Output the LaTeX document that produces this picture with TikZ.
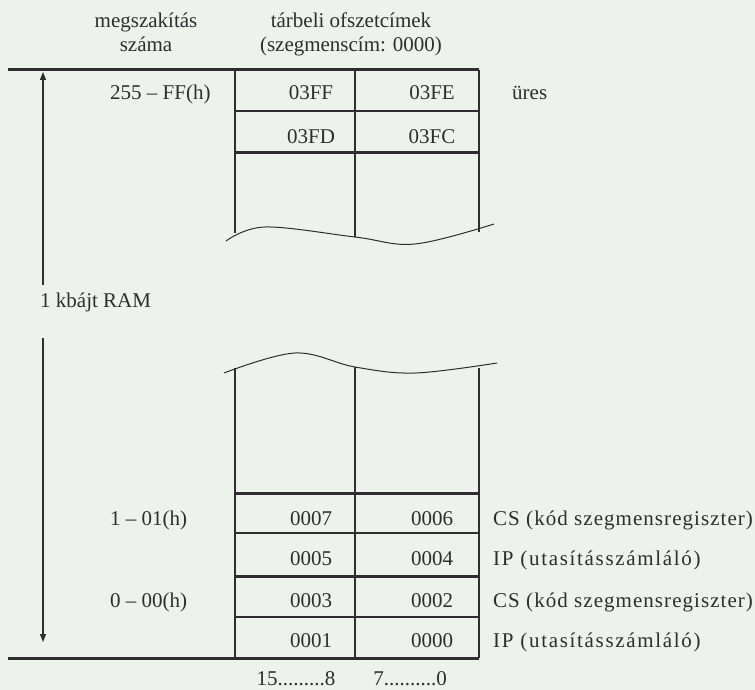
\documentclass[tikz,border=0pt]{standalone}
\usepackage{fontspec}
\setmainfont{Liberation Serif}
\usetikzlibrary{arrows.meta}
\definecolor{paper}{HTML}{EDF2EC}
\definecolor{ink}{HTML}{2E2E2E}

\begin{document}
\begin{tikzpicture}[
  x=1pt, y=-1pt,
  every node/.style={anchor=base, inner sep=0pt, text=ink, font=\fontsize{21}{24}\selectfont},
  fatline/.style={draw=ink, line width=3pt},
  cellline/.style={draw=ink, line width=1.2pt},
  wave/.style={draw=ink, line width=1pt},
  arr/.style={draw=ink, line width=1.2pt, -{Triangle[length=8pt, width=6pt]}},
  regnote/.style={anchor=base west, font=\fontsize{21}{24}\selectfont\addfontfeatures{LetterSpace=#1}},
]
  \fill[paper] (0,0) rectangle (755,690);
  \useasboundingbox (0,0) rectangle (755,690);

  % Headings
  \node[align=center] (irqhead) at (146,52) {megszakítás\\száma};
  \node[align=center] (addrhead) at (351,52) {tárbeli ofszetcímek\\(szegmenscím: 0000)};

  % Upper part of the table
  \draw[fatline] (8,70) -- (479,70);
  \draw[cellline] (235,111) -- (479,111);
  \draw[fatline] (235,153) -- (479,153);
  \draw[cellline] (235,70) -- (235,233);
  \draw[cellline] (355,70) -- (355,237);
  \draw[cellline] (479,70) -- (479,232);
  \draw[wave] plot[smooth, tension=0.6] coordinates {(226,241) (265,227) (355,237) (415,244) (494,224)};

  % Lower part of the table
  \draw[wave] plot[smooth, tension=0.6] coordinates {(224,373) (295,353) (355,367) (415,373) (497,363)};
  \draw[cellline] (235,368) -- (235,658);
  \draw[cellline] (355,367) -- (355,658);
  \draw[cellline] (479,368) -- (479,658);
  \draw[fatline] (235,493) -- (479,493);
  \draw[cellline] (235,533) -- (479,533);
  \draw[fatline] (235,576) -- (479,576);
  \draw[cellline] (235,617) -- (479,617);
  \draw[fatline] (8,658) -- (479,658);

  % Interrupt numbers
  \node[anchor=base west] (irq255) at (110,100) {255 -- FF(h)};
  \node[anchor=base west] (irq1) at (110,525) {1 -- 01(h)};
  \node[anchor=base west] (irq0) at (110,607) {0 -- 00(h)};

  % Cell addresses
  \node (a3ff) at (311,100) {03FF};
  \node (a3fe) at (432,100) {03FE};
  \node (a3fd) at (311,143) {03FD};
  \node (a3fc) at (432,143) {03FC};
  \node (a7) at (311,525) {0007};
  \node (a6) at (432,525) {0006};
  \node (a5) at (311,565) {0005};
  \node (a4) at (432,565) {0004};
  \node (a3) at (311,607) {0003};
  \node (a2) at (432,607) {0002};
  \node (a1) at (311,647) {0001};
  \node (a0) at (432,647) {0000};

  % Notes right of the table
  \node[anchor=base west] (empty) at (512,100) {üres};
  \node[regnote=5] (cs1) at (493,525) {CS (kód szegmensregiszter)};
  \node[regnote=8] (ip1) at (493,565) {IP (utasításszámláló)};
  \node[regnote=5] (cs0) at (493,607) {CS (kód szegmensregiszter)};
  \node[regnote=8] (ip0) at (493,647) {IP (utasításszámláló)};

  % Bit numbers
  \node (hibits) at (296,685) {15.........8};
  \node (lobits) at (410,685) {7..........0};

  % Size of the RAM
  \node[anchor=base west] (ram) at (40,307) {1 kbájt RAM};
  \coordinate (ramtop) at (43,72);
  \coordinate (ramcut1) at (43,285);
  \coordinate (ramcut2) at (43,338);
  \coordinate (rambot) at (43,642);
  \draw[arr] (ramcut1) -- (ramtop);
  \draw[arr] (ramcut2) -- (rambot);
\end{tikzpicture}
\end{document}
